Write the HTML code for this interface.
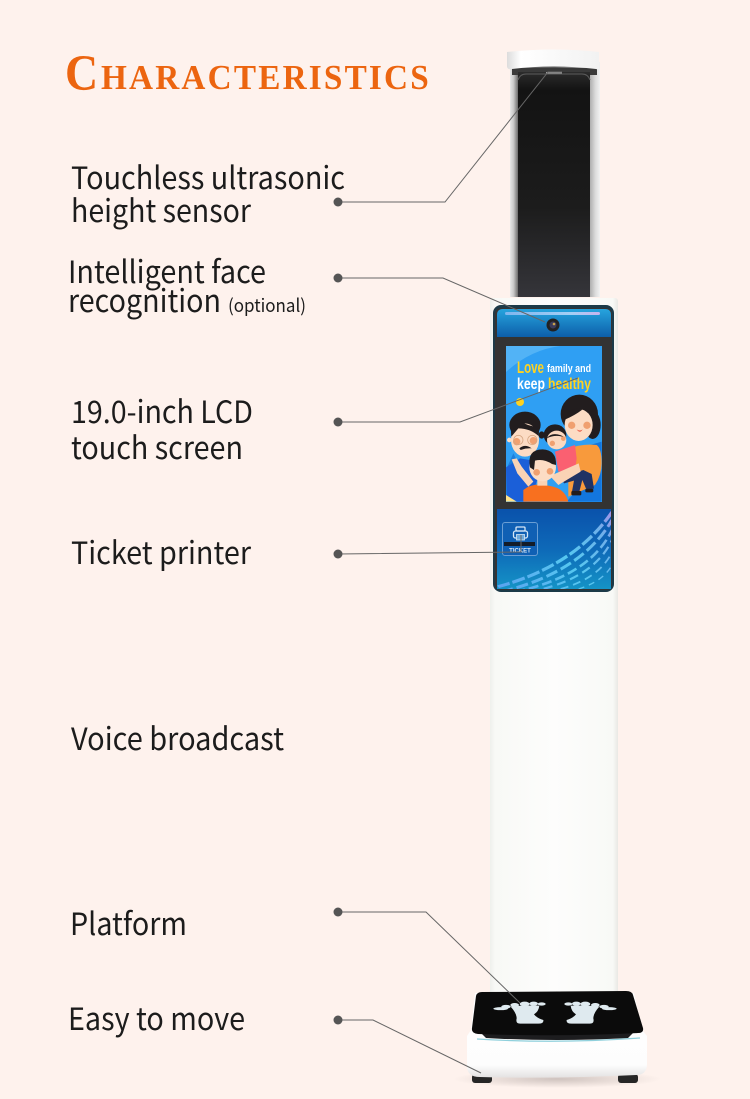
<!DOCTYPE html>
<html><head><meta charset="utf-8"><style>
html,body{margin:0;padding:0;background:#fef2ed}
svg{display:block}
.l{font-family:"Noto Sans CJK SC","Liberation Sans",sans-serif;font-size:31px;fill:#1c1c1c}
.s{font-family:"Liberation Serif",serif;font-weight:700;fill:#ec6510}
.c{font-family:"Liberation Sans",sans-serif;font-weight:700}
</style></head><body>
<svg width="750" height="1099" viewBox="0 0 750 1099" xmlns="http://www.w3.org/2000/svg">
<defs>
<linearGradient id="side" x1="0" x2="1" y1="0" y2="0"><stop offset="0" stop-color="#e8e8e8"/><stop offset=".04" stop-color="#c8c8c8"/><stop offset=".09" stop-color="#6a6a6a"/><stop offset=".5" stop-color="#555"/><stop offset=".88" stop-color="#a8a8a8"/><stop offset=".95" stop-color="#dcdcdc"/><stop offset="1" stop-color="#f2f2f2"/></linearGradient>
<linearGradient id="panel" x1="0" x2="0" y1="0" y2="1"><stop offset="0" stop-color="#2c2c2c"/><stop offset=".08" stop-color="#131313"/><stop offset=".6" stop-color="#1c1c1c"/><stop offset="1" stop-color="#35353a"/></linearGradient>
<linearGradient id="cap" x1="0" x2="1" y1="0" y2="0"><stop offset="0" stop-color="#dcdcdc"/><stop offset=".15" stop-color="#fff"/><stop offset="1" stop-color="#f2f2f2"/></linearGradient>
<linearGradient id="col" x1="0" x2="1" y1="0" y2="0"><stop offset="0" stop-color="#eef0ec"/><stop offset=".04" stop-color="#f8f9f6"/><stop offset=".5" stop-color="#fdfdfc"/><stop offset=".96" stop-color="#f8f9f6"/><stop offset="1" stop-color="#e9e8e4"/></linearGradient>
<linearGradient id="top" x1="0" x2="0" y1="0" y2="1"><stop offset="0" stop-color="#26a4de"/><stop offset="1" stop-color="#0d5ea9"/></linearGradient>
<linearGradient id="low" x1="0" x2="0" y1="0" y2="1"><stop offset="0" stop-color="#0a52ab"/><stop offset=".5" stop-color="#0e69b8"/><stop offset="1" stop-color="#1593c6"/></linearGradient>
<linearGradient id="wave" gradientUnits="userSpaceOnUse" x1="497" y1="589" x2="612" y2="510"><stop offset="0" stop-color="#5aa2f0"/><stop offset=".55" stop-color="#56c8f0"/><stop offset=".85" stop-color="#6fb0ea"/><stop offset="1" stop-color="#a890e8"/></linearGradient>
<linearGradient id="bar" x1="0" x2="1"><stop offset="0" stop-color="#7fb6ee"/><stop offset=".7" stop-color="#a4cff5"/><stop offset="1" stop-color="#c7b4ee"/></linearGradient>
<linearGradient id="base" x1="0" x2="0" y1="0" y2="1"><stop offset="0" stop-color="#fff"/><stop offset=".85" stop-color="#fdfdfd"/><stop offset="1" stop-color="#e4e2e2"/></linearGradient>
<radialGradient id="sh"><stop offset="0" stop-color="#a89c98" stop-opacity=".55"/><stop offset="1" stop-color="#a89c98" stop-opacity="0"/></radialGradient>
<clipPath id="lc"><rect x="506" y="346" width="96" height="156"/></clipPath>
<clipPath id="lo"><path d="M497 509H611V583Q611 589 605 589H503Q497 589 497 583Z"/></clipPath>
</defs>
<rect width="750" height="1099" fill="#fef2ed"/>

<!-- title -->
<text class="s" transform="translate(65 90) scale(.9 1)" font-size="51">C</text>
<text class="s" transform="translate(101 89) scale(.95 1)" font-size="35" textLength="345" lengthAdjust="spacing">HARACTERISTICS</text>

<!-- tower -->
<rect x="510" y="62" width="90" height="235" fill="url(#side)"/>
<rect x="512" y="68" width="85" height="7" fill="#3a3a3a"/>
<rect x="518" y="72" width="72" height="225" fill="url(#panel)"/>
<path d="M518 80Q520 74 526 74H582Q588 74 590 80" stroke="#5c5c5c" fill="none"/>
<path d="M507 52Q553 47 599 52V67Q600 70 596 69Q553 64 512 69Q507 70 507 66Z" fill="url(#cap)"/>
<rect x="546" y="72" width="16" height="1.500" fill="#a0a0a0"/>

<!-- column -->
<rect x="490" y="298" width="128" height="698" rx="3" fill="url(#col)"/>

<!-- screen unit -->
<rect x="493" y="305" width="121" height="287" rx="8" fill="#1b3a48"/>
<rect x="495" y="308" width="117" height="282" rx="6" fill="#333"/>
<path d="M497 315Q497 309 503 309H605Q611 309 611 315V337H497Z" fill="url(#top)"/>
<rect x="505" y="312" width="95" height="3" rx="1.500" fill="url(#bar)"/>
<circle cx="553" cy="325" r="6.500" fill="#222"/><circle cx="553" cy="325" r="3.500" fill="#3b3b5a"/><circle cx="554" cy="324" r="1.300" fill="#c9a24a"/>

<!-- LCD -->
<g clip-path="url(#lc)">
<rect x="506" y="346" width="96" height="156" fill="#2f9ff3"/>
<path d="M506 346H560Q530 350 506 372Z" fill="#52b3f6"/>
<circle cx="520" cy="402" r="4" fill="#ffd21f"/>
<g transform="translate(500 390) scale(.3333)">
<path d="M18 240L40 190L60 230V335H18Z" fill="#1c7fdc"/>
<path d="M270 165L305 155V335H200L240 290Z" fill="#1376de"/>
<!-- woman -->
<path d="M205 175Q250 160 290 165Q305 175 305 220Q305 255 285 285L205 320Z" fill="#f89a3c"/>
<ellipse cx="238" cy="72" rx="56" ry="58" fill="#221d1e"/>
<ellipse cx="278" cy="105" rx="24" ry="42" fill="#221d1e"/>
<ellipse cx="236" cy="105" rx="42" ry="48" fill="#fcdcc4"/>
<path d="M192 90Q205 50 248 58Q225 76 192 90Z" fill="#221d1e"/>
<circle cx="215" cy="106" r="11" fill="#f0a070"/><circle cx="261" cy="106" r="11" fill="#f0a070"/>
<path d="M230 118Q240 125 248 118Q240 132 230 118Z" fill="#e8543f"/>
<!-- man -->
<path d="M18 232L60 205L100 212L115 260L90 335H22Z" fill="#1b5fd8"/>
<path d="M18 315L50 335H18Z" fill="#ffe38a"/>
<ellipse cx="75" cy="105" rx="47" ry="40" fill="#221d1e"/>
<ellipse cx="75" cy="150" rx="42" ry="50" fill="#fcdcc4"/>
<circle cx="28" cy="150" r="7" fill="#fcdcc4"/>
<path d="M34 140Q28 85 60 92Q80 108 118 112L116 138Q90 115 55 115Z" fill="#221d1e"/>
<circle cx="50" cy="155" r="11" fill="#f0a070"/><circle cx="100" cy="152" r="11" fill="#f0a070"/>
<circle cx="55" cy="150" r="14" fill="none" stroke="#d6a682" stroke-width="2.500"/><circle cx="97" cy="150" r="14" fill="none" stroke="#d6a682" stroke-width="2.500"/>
<path d="M58 175Q75 160 95 175Q78 174 62 180Z" fill="#221d1e"/>
<!-- girl -->
<path d="M165 185L225 165L230 205L225 245L175 245Z" fill="#fa6071"/>
<ellipse cx="165" cy="135" rx="34" ry="32" fill="#221d1e"/>
<ellipse cx="125" cy="135" rx="9" ry="11" fill="#221d1e"/>
<ellipse cx="170" cy="150" rx="29" ry="28" fill="#fbd8bf"/>
<path d="M140 145Q160 120 200 145Q170 130 140 145Z" fill="#221d1e"/>
<circle cx="157" cy="160" r="8" fill="#f0a070"/><circle cx="190" cy="146" r="7" fill="#f0a070"/>
<!-- trousers -->
<path d="M185 262L250 240L275 252L282 296L258 296L247 270L238 305L216 305L222 272L192 280Z" fill="#1f3264"/>
<rect x="214" y="303" width="30" height="13" rx="4" fill="#221d1e"/><rect x="256" y="296" width="24" height="11" rx="4" fill="#221d1e"/>
<!-- boy -->
<path d="M70 300Q100 275 150 288Q195 295 205 335H70Z" fill="#f8701f"/>
<path d="M35 208L50 205L65 230L100 275L85 290L52 250Z" fill="#fad3b5"/>
<path d="M150 258L236 220L242 245L175 285Z" fill="#fad3b5"/>
<rect x="112" y="262" width="30" height="25" fill="#fad3b5"/>
<ellipse cx="128" cy="232" rx="40" ry="42" fill="#fcdcc4"/>
<path d="M90 232Q80 178 128 178Q170 180 168 225L156 222Q130 205 105 212L102 240Z" fill="#221d1e"/>
<circle cx="110" cy="247" r="10" fill="#f0a070"/><circle cx="150" cy="244" r="10" fill="#f0a070"/>
</g>
<text class="c" x="517" y="373" font-size="17" fill="#ffd21f" textLength="27" lengthAdjust="spacingAndGlyphs">Love</text>
<text class="c" x="547" y="372" font-size="11" fill="#fff" textLength="44" lengthAdjust="spacingAndGlyphs">family and</text>
<text class="c" x="517" y="389" font-size="16" fill="#fff" textLength="28" lengthAdjust="spacingAndGlyphs">keep</text>
<text class="c" x="548" y="389" font-size="16" fill="#ffd21f" textLength="43" lengthAdjust="spacingAndGlyphs">healthy</text>
</g>

<!-- lower blue -->
<rect x="497" y="509" width="114" height="80" fill="url(#low)"/>
<g clip-path="url(#lo)" fill="none" stroke="url(#wave)">
<path d="M497 587Q575 566 612 512" stroke-width="3.200" stroke-dasharray="13 3"/>
<path d="M501 592Q582 572 612 520" stroke-width="3" stroke-dasharray="12 4"/>
<path d="M515 592Q590 576 612 530" stroke-width="2.600" stroke-dasharray="10 4"/>
<path d="M530 592Q594 579 612 540" stroke-width="2.200" stroke-dasharray="9 5"/>
<path d="M548 592Q598 582 612 552" stroke-width="1.800" stroke-dasharray="8 5"/>
<path d="M568 592Q602 584 612 565" stroke-width="1.400" stroke-dasharray="6 5"/>
</g>
<rect x="502.500" y="522.500" width="35" height="33" rx="2.500" fill="#1060b4" stroke="#6a9ed4"/>
<rect x="516" y="527" width="9" height="4" rx="1" fill="none" stroke="#d5e6f6" stroke-width="1.300"/>
<rect x="513.500" y="531" width="14" height="7" rx="2" fill="none" stroke="#d5e6f6" stroke-width="1.300"/>
<rect x="516.500" y="534.500" width="8" height="5.500" fill="#6da9dc" stroke="#d5e6f6" stroke-width=".8"/>
<rect x="504" y="542" width="31" height="4" fill="#141c28"/>
<text class="c" x="520" y="552.500" text-anchor="middle" font-size="6" fill="#dbe8f5">TICKET</text>

<!-- base -->
<ellipse cx="557" cy="1079" rx="104" ry="9" fill="url(#sh)"/>
<rect x="472" y="1074" width="20" height="9" rx="3" fill="#262626"/>
<rect x="618" y="1074" width="20" height="9" rx="3" fill="#262626"/>
<path d="M475 993H634L642 1030L647 1036V1064Q647 1075 636 1075Q557 1079 480 1077Q467 1077 467 1066V1036L471 1030Z" fill="url(#base)"/>
<path d="M477 1039Q557 1044 640 1038" stroke="#8fd0dc" stroke-width="1.200" fill="none"/>
<path d="M478 1030H636L628 1038Q557 1042 486 1038Z" fill="#1d1d1f"/>
<path d="M482 992L626 991Q632 991 633 995L643 1028Q644 1033 638 1033Q557 1037 478 1034Q471 1033 472 1028L476 996Q477 992 482 992Z" fill="#0b0b0b"/>
<g fill="#dfeaef" transform="translate(480 985) scale(.3333)">
<path d="M92 65Q130 60 178 62Q176 80 162 88Q172 100 190 105Q192 116 175 116H120Q106 116 110 100Q110 85 92 65Z"/>
<ellipse cx="62" cy="71" rx="22" ry="4.500"/><ellipse cx="78" cy="65" rx="14" ry="5.500"/><ellipse cx="104" cy="60" rx="13" ry="6"/><ellipse cx="134" cy="57" rx="15" ry="7"/><ellipse cx="161" cy="56" rx="13" ry="6"/><ellipse cx="185" cy="57" rx="12" ry="5"/>
<g transform="translate(450 0) scale(-1 1)">
<path d="M92 65Q130 60 178 62Q176 80 162 88Q172 100 190 105Q192 116 175 116H120Q106 116 110 100Q110 85 92 65Z"/>
<ellipse cx="62" cy="71" rx="22" ry="4.500"/><ellipse cx="78" cy="65" rx="14" ry="5.500"/><ellipse cx="104" cy="60" rx="13" ry="6"/><ellipse cx="134" cy="57" rx="15" ry="7"/><ellipse cx="161" cy="56" rx="13" ry="6"/><ellipse cx="185" cy="57" rx="12" ry="5"/>
</g>
</g>

<!-- connectors -->
<g fill="none" stroke="#666" stroke-width="1">
<path d="M338 202H445L548 72H562"/>
<path d="M338 278H443L545 322"/>
<path d="M338 422H460L578 378"/>
<path d="M338 554L521 552V535"/>
<path d="M338 912H426L520 1003"/>
<path d="M338 1020H373L481 1073"/>
</g>
<g fill="#555">
<circle cx="338" cy="202" r="4.500"/><circle cx="338" cy="278" r="4.500"/><circle cx="338" cy="422" r="4.500"/><circle cx="338" cy="554" r="4.500"/><circle cx="338" cy="912" r="4.500"/><circle cx="338" cy="1020" r="4.500"/>
</g>

<!-- labels -->
<text class="l" x="71" y="189" textLength="274" lengthAdjust="spacingAndGlyphs">Touchless ultrasonic</text>
<text class="l" x="71" y="222" textLength="180" lengthAdjust="spacingAndGlyphs">height sensor</text>
<text class="l" x="68" y="283" textLength="198" lengthAdjust="spacingAndGlyphs">Intelligent face</text>
<text class="l" x="68" y="312" textLength="153" lengthAdjust="spacingAndGlyphs">recognition</text>
<text class="l" x="228" y="312" style="font-size:18px" textLength="78" lengthAdjust="spacingAndGlyphs">(optional)</text>
<text class="l" x="71" y="423" textLength="182" lengthAdjust="spacingAndGlyphs">19.0-inch LCD</text>
<text class="l" x="71" y="459" textLength="172" lengthAdjust="spacingAndGlyphs">touch screen</text>
<text class="l" x="71" y="564" textLength="180" lengthAdjust="spacingAndGlyphs">Ticket printer</text>
<text class="l" x="71" y="750" textLength="213" lengthAdjust="spacingAndGlyphs">Voice broadcast</text>
<text class="l" x="70" y="935" textLength="117" lengthAdjust="spacingAndGlyphs">Platform</text>
<text class="l" x="68" y="1030" textLength="177" lengthAdjust="spacingAndGlyphs">Easy to move</text>
</svg>
</body></html>
